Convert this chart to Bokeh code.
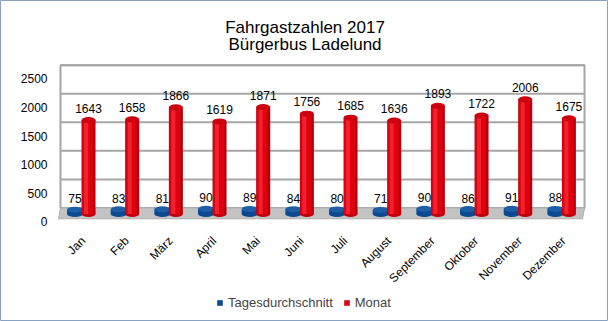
import math
from bokeh.plotting import figure
from bokeh.models import Range1d, Legend, LegendItem
from bokeh.core.properties import value
from bokeh.embed import file_html
from bokeh.resources import INLINE

# ---- data ----
months = ["Jan", "Feb", "März", "April", "Mai", "Juni", "Juli", "August",
          "September", "Oktober", "November", "Dezember"]
monat = [1643, 1658, 1866, 1619, 1871, 1756, 1685, 1636, 1893, 1722, 2006, 1675]
tages = [75, 83, 81, 90, 89, 84, 80, 71, 90, 86, 91, 88]
y_ticks = [0, 500, 1000, 1500, 2000, 2500]
title_lines = ["Fahrgastzahlen 2017", "Bürgerbus Ladelund"]
series_names = ["Tagesdurchschnitt", "Monat"]

# ---- geometry (pixel based layout helpers) ----
W, H = 608, 321
SLOT = 43.67      # px per category
X0 = 79.83        # px of first category centre
Y0 = 218.3        # px of value 0 on the front edge of the floor
K = 17.5          # value units per px
FONT_NAME = "Liberation Sans"
FONT = value(FONT_NAME)

def ux(px):       # px distance -> x data units
    return px / SLOT

def uy(px):       # px distance -> value units
    return px * K

n = len(months)
xs = list(range(n))
BACK = uy(10.8)    # depth offset of back wall
MID = uy(4.8)      # depth offset of bar plane
BX = ux(2.0)       # horizontal shift of back wall
vmax = y_ticks[-1]

p = figure(width=W, height=H,
           x_range=Range1d(ux(-X0), ux(W - X0)),
           y_range=Range1d(-uy(H - Y0), uy(Y0)),
           x_axis_type=None, y_axis_type=None,
           toolbar_location=None, output_backend="svg",
           min_border=0, background_fill_color="white",
           border_fill_color="white", outline_line_color="#8aa2c2",
           outline_line_width=1)

# back wall
p.quad(left=[-0.5 + BX], right=[n - 0.5 + BX], bottom=[BACK], top=[BACK + vmax],
       fill_color="white", line_color="#a6a6a6", line_width=2)
p.segment(x0=[-0.5 + BX] * len(y_ticks), x1=[n - 0.5 + BX] * len(y_ticks),
          y0=[t + BACK for t in y_ticks], y1=[t + BACK for t in y_ticks],
          line_color="#a6a6a6", line_width=2)
# floor
p.patch(x=[-0.5, n - 0.5, n - 0.5 + BX, -0.5 + BX], y=[0, 0, BACK, BACK],
        fill_color="#c3c3c3", line_color="#b0b0b0", line_width=1)

# blue cylinders (Tagesdurchschnitt)
bx = [x - ux(5.3) for x in xs]
btop = [MID + v for v in tages]
p.ellipse(x=bx, y=[MID] * n, width=16, height=6, width_units="screen",
          height_units="screen", fill_color="#0b4a91", line_color=None)
blue_body = p.vbar(x=bx, width=ux(16), bottom=MID, top=btop,
                   fill_color="#0b4a91", line_color=None)
p.ellipse(x=bx, y=btop, width=16, height=6, width_units="screen",
          height_units="screen", fill_color="#1d5ea6", line_color=None)

# red cylinders (Monat)
rx = [x + ux(8.2) for x in xs]
rtop = [MID + v for v in monat]
p.ellipse(x=rx, y=[MID] * n, width=14, height=6, width_units="screen",
          height_units="screen", fill_color="#c0000c", line_color=None)
p.vbar(x=rx, width=ux(14), bottom=MID, top=rtop, fill_color="#b8000a", line_color=None)
red_body = p.vbar(x=[x - ux(1) for x in rx], width=ux(11), bottom=MID, top=rtop,
                  fill_color="#dc0010", line_color=None)
p.vbar(x=[x - ux(2.5) for x in rx], width=ux(4), bottom=MID, top=rtop,
       fill_color="#f2222d", line_color=None)
p.ellipse(x=rx, y=rtop, width=14, height=6, width_units="screen",
          height_units="screen", fill_color="#cc000e", line_color=None)

# data labels
p.text(x=rx, y=rtop, text=[str(v) for v in monat], text_font=FONT,
       text_font_size="12px", text_align="center", text_baseline="middle",
       y_offset=-12, text_color="black")
p.text(x=bx, y=btop, text=[str(v) for v in tages], text_font=FONT,
       text_font_size="12px", text_align="center", text_baseline="middle",
       y_offset=-11, text_color="black")

# y tick labels
p.text(x=[ux(47 - X0)] * len(y_ticks), y=y_ticks, text=[str(t) for t in y_ticks],
       text_font=FONT, text_font_size="12px", text_align="right",
       text_baseline="middle", y_offset=3, text_color="black")

# category labels
p.text(x=xs, y=[-uy(20)] * n, text=months, text_font=FONT, text_font_size="12px",
       text_align="right", text_baseline="middle", angle=math.pi / 4,
       x_offset=3, text_color="black")

# title
p.text(x=[ux(304.5 - X0)] * 2, y=[uy(Y0 - 26.7), uy(Y0 - 43.5)], text=title_lines,
       text_font=FONT, text_font_size="17px", text_align="center",
       text_baseline="middle", text_color="black")

legend = Legend(items=[LegendItem(label=series_names[0], renderers=[blue_body]),
                       LegendItem(label=series_names[1], renderers=[red_body])],
                orientation="horizontal", location=(216, 11),
                glyph_width=7, glyph_height=7, label_standoff=5, spacing=10,
                padding=0, margin=0, border_line_color=None,
                background_fill_alpha=0, label_text_font=FONT_NAME,
                label_text_font_size="13px", label_height=14)
p.add_layout(legend)

open("out.html", "w").write(file_html(p, INLINE))
